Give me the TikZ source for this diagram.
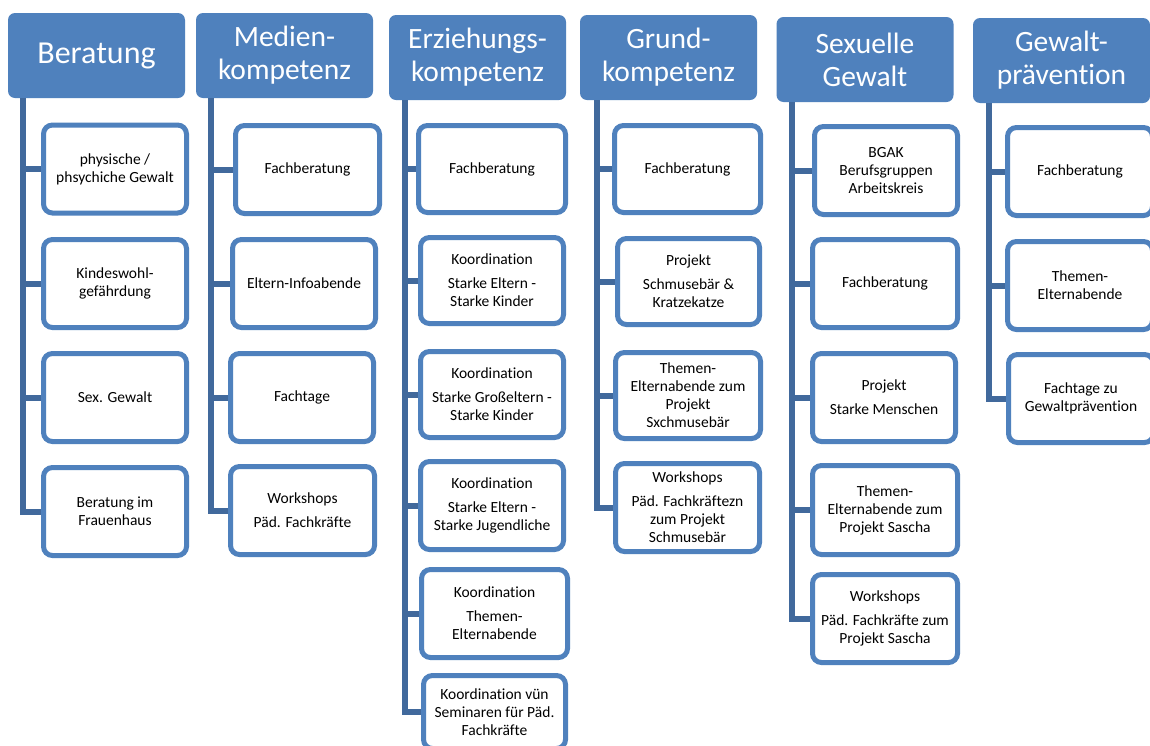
\documentclass[tikz,border=0pt]{standalone}
\usepackage{fontspec}
\setmainfont{Carlito}[Ligatures=NoCommon]
\definecolor{hdr}{HTML}{4F81BD}
\definecolor{bord}{HTML}{4F81BD}
\definecolor{conn}{HTML}{41699C}
\begin{document}
\begin{tikzpicture}[x=1pt,y=-1pt,
  head/.style={fill=hdr, draw=none, rounded corners=7pt, text=white, align=center,
    inner sep=0pt, minimum width=177pt, minimum height=85pt,
    font=\fontsize{29.5}{33}\selectfont},
  cbox/.style={fill=white, draw=bord, line width=5pt, rounded corners=9pt, align=center,
    inner sep=0pt, minimum width=143pt, minimum height=88pt,
    font=\fontsize{15.5}{18}\selectfont},
  link/.style={draw=conn, line width=6pt}]
\useasboundingbox (0,0) rectangle (1150,745);
\clip (0,0) rectangle (1150,745);
\fill[white] (0,0) rectangle (1150,745);

% headers
\node[head, font=\fontsize{32}{35}\selectfont] (h1) at (96.5,55.5) {Beratung};
\node[head] (h2) at (284.5,55.5) {Medien-\\kompetenz};
\node[head] (h3) at (477.5,57.5) {Erziehungs-\\kompetenz};
\node[head] (h4) at (668.5,57.5) {Grund-\\kompetenz};
\node[head] (h5) at (865,59.5) {Sexuelle\\Gewalt};
\node[head] (h6) at (1061.5,60.5) {Gewalt-\\prävention};

% column 1
\node[cbox] (c11) at (115,169) {physische /\\phsychiche Gewalt};
\node[cbox] (c12) at (115,283.5) {Kindeswohl-\\gefährdung};
\node[cbox] (c13) at (115,397.5) {Sex. Gewalt};
\node[cbox] (c14) at (115,511.5) {Beratung im\\Frauenhaus};

% column 2
\node[cbox, minimum width=144pt] (c21) at (307.5,169.5) {Fachberatung};
\node[cbox] (c22) at (304,283.5) {Eltern-Infoabende};
\node[cbox] (c23) at (302,397.5) {Fachtage};
\node[cbox, minimum width=144pt] (c24) at (302.5,510.5) {Workshops\\[6pt]Päd. Fachkräfte};

% column 3
\node[cbox, minimum width=147pt, minimum height=87pt] (c31) at (492,169) {Fachberatung};
\node[cbox, minimum height=86pt] (c32) at (492,280.5) {Koordination\\[6pt]Starke Eltern -\\Starke Kinder};
\node[cbox, minimum height=86pt] (c33) at (492,394.5) {Koordination\\[6pt]Starke Großeltern -\\Starke Kinder};
\node[cbox] (c34) at (492,505.5) {Koordination\\[6pt]Starke Eltern -\\Starke Jugendliche};
\node[cbox, minimum width=146pt] (c35) at (494.5,613.5) {Koordination\\[6pt]Themen-\\Elternabende};
\node[cbox, minimum width=142pt, minimum height=73pt] (c36) at (494.5,712) {Koordination vün\\Seminaren für Päd.\\Fachkräfte};

% column 4
\node[cbox, minimum width=146pt, minimum height=87pt] (c41) at (687.5,169) {Fachberatung};
\node[cbox, minimum width=142pt, minimum height=86pt] (c42) at (688.5,281.5) {Projekt\\[6pt]Schmusebär \&\\Kratzekatze};
\node[cbox, minimum width=145pt, minimum height=86pt] (c43) at (688,395.5) {Themen-\\Elternabende zum\\Projekt\\Sxchmusebär};
\node[cbox, minimum width=144pt] (c44) at (687.5,507.5) {Workshops\\[6pt]Päd. Fachkräftezn\\zum Projekt\\Schmusebär};

% column 5
\node[cbox] (c51) at (886,170.5) {BGAK\\Berufsgruppen\\Arbeitskreis};
\node[cbox, minimum width=145pt] (c52) at (885,283.5) {Fachberatung};
\node[cbox] (c53) at (884,397.5) {Projekt\\[6pt]Starke Menschen};
\node[cbox, minimum width=145pt, minimum height=89pt] (c54) at (885,510) {Themen-\\Elternabende zum\\Projekt Sascha};
\node[cbox, minimum width=145pt] (c55) at (885,618.5) {Workshops\\[6pt]Päd. Fachkräfte zum\\Projekt Sascha};

% column 6
\node[cbox, minimum width=145pt] (c61) at (1080,171.5) {Fachberatung};
\node[cbox, minimum width=145pt] (c62) at (1080,285.5) {Themen-\\Elternabende};
\node[cbox, minimum width=145pt] (c63) at (1081,398.5) {Fachtage zu\\Gewaltprävention};

% connectors
\foreach \h/\dx/\last/\others in {h1/15/c14/{c11,c12,c13},
                                 h2/15/c24/{c21,c22,c23},
                                 h3/16/c36/{c31,c32,c33,c34,c35},
                                 h4/17/c44/{c41,c42,c43},
                                 h5/16/c55/{c51,c52,c53,c54},
                                 h6/16/c63/{c61,c62}}{
  \draw[link] ([xshift=\dx pt]\h.south west) |- (\last.west);
  \foreach \c in \others {
    \draw[link] ([xshift=\dx pt]\h.south west |- \c.west) -- (\c.west);
  }
}
\end{tikzpicture}
\end{document}
